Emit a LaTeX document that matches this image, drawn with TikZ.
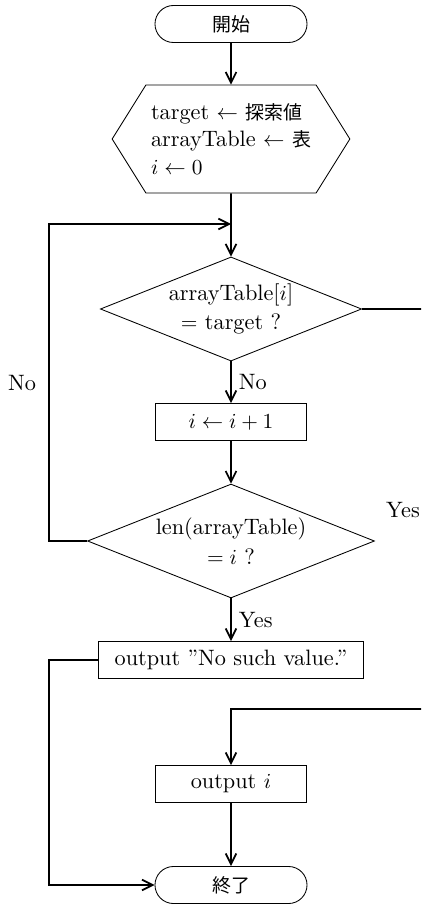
\documentclass[tikz,border=0pt]{standalone}
\usepackage{fontspec}
\newfontfamily\jp{Noto Sans CJK JP}[Scale=0.85]
\usetikzlibrary{shapes.geometric,shapes.misc,shapes.symbols,arrows.meta}

\begin{document}
\begin{tikzpicture}[x=0.467pt,y=-0.467pt,
    font=\fontsize{10.4pt}{12.8pt}\selectfont,
    term/.style={draw,rounded rectangle,minimum width=71pt,minimum height=17.3pt,inner sep=0pt},
    proc/.style={draw,rectangle,minimum height=17.3pt,inner sep=0pt},
    prep/.style={draw,signal,signal to=west and east,signal pointer angle=116,
      minimum width=111pt,minimum height=50.4pt,inner sep=0pt,align=left},
    cond/.style={draw,diamond,aspect=2.5,inner sep=0pt,align=center},
    flow/.style={-{Straight Barb[length=5pt,width=5pt]},thick}]
  \useasboundingbox (0,0) rectangle (421,905);
  \clip (0,0) rectangle (421,905);
  \draw
    (231,24) node[term] (start) {\jp 開始}
    (231,139) node[prep] (init) {target $\leftarrow$ {\jp 探索値}\\arrayTable $\leftarrow$ {\jp 表}\\$i \leftarrow 0$}
    (231,309) node[cond,minimum width=122pt,minimum height=48.6pt] (check) {arrayTable[$i$]\\[1pt]$=$ target ?}
    (231,422) node[proc,minimum width=70.5pt] (inc) {$i \leftarrow i+1$}
    (231,541) node[cond,minimum width=134pt,minimum height=53.2pt] (last) {len(arrayTable)\\[1pt]$= i$ ?}
    (231,660) node[proc,minimum width=124pt] (none) {output ''No such value.''}
    (231,784) node[proc,minimum width=70.5pt] (found) {output $i$}
    (231,885) node[term] (stop) {\jp 終了};
  \coordinate (join) at (231,224);
  \coordinate (back) at (49,224);
  \coordinate (skip) at (49,885);
  \coordinate (hit) at (460,709);
  \node (nolab) at (22,383) {No};
  \node (yeslab) at (403,510) {Yes};
  \begin{scope}[flow]
    \draw (start) to (init);
    \draw (init) to (check);
    \draw (check) to node[right] {No} (inc);
    \draw (inc) to (last);
    \draw (last) to node[right] {Yes} (none);
    \draw (last.west) -| (back) -- (join);
    \draw (none.west) -| (skip) -- (stop.west);
    \draw (check.east) -| (hit) -| (found);
    \draw (found) to (stop);
  \end{scope}
\end{tikzpicture}
\end{document}
